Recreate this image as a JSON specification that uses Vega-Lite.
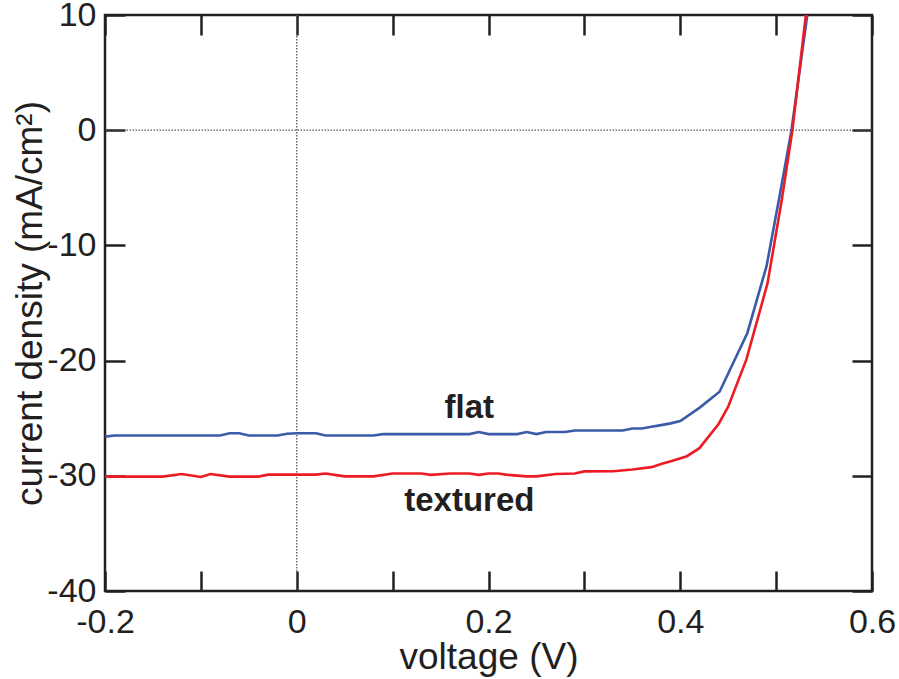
{
  "$schema": "https://vega.github.io/schema/vega-lite/v6.json",
  "width": 767,
  "height": 576,
  "autosize": {"type": "none"},
  "padding": {"left": 105, "top": 15, "right": 27, "bottom": 88},
  "config": {
    "font": "Liberation Sans",
    "view": {"stroke": "#231f20", "strokeWidth": 2.5},
    "axis": {"domain": false, "grid": false, "labelFlush": false, "tickColor": "#231f20", "tickWidth": 2.5, "labelColor": "#231f20", "titleColor": "#231f20", "labelFontSize": 34, "titleFontSize": 37, "titleFontWeight": "normal"}
  },
  "resolve": {"axis": {"x": "independent", "y": "independent"}},
  "datasets": {
    "curves": [
      {"V": -0.2, "J": -26.6, "sample": "flat"},
      {"V": -0.19, "J": -26.5, "sample": "flat"},
      {"V": -0.15, "J": -26.5, "sample": "flat"},
      {"V": -0.1, "J": -26.5, "sample": "flat"},
      {"V": -0.08, "J": -26.5, "sample": "flat"},
      {"V": -0.07, "J": -26.3, "sample": "flat"},
      {"V": -0.06, "J": -26.3, "sample": "flat"},
      {"V": -0.05, "J": -26.5, "sample": "flat"},
      {"V": -0.02, "J": -26.5, "sample": "flat"},
      {"V": -0.01, "J": -26.35, "sample": "flat"},
      {"V": 0.0, "J": -26.3, "sample": "flat"},
      {"V": 0.02, "J": -26.3, "sample": "flat"},
      {"V": 0.03, "J": -26.5, "sample": "flat"},
      {"V": 0.08, "J": -26.5, "sample": "flat"},
      {"V": 0.09, "J": -26.38, "sample": "flat"},
      {"V": 0.15, "J": -26.38, "sample": "flat"},
      {"V": 0.18, "J": -26.38, "sample": "flat"},
      {"V": 0.19, "J": -26.2, "sample": "flat"},
      {"V": 0.2, "J": -26.38, "sample": "flat"},
      {"V": 0.23, "J": -26.38, "sample": "flat"},
      {"V": 0.24, "J": -26.2, "sample": "flat"},
      {"V": 0.25, "J": -26.38, "sample": "flat"},
      {"V": 0.26, "J": -26.2, "sample": "flat"},
      {"V": 0.28, "J": -26.2, "sample": "flat"},
      {"V": 0.29, "J": -26.07, "sample": "flat"},
      {"V": 0.34, "J": -26.07, "sample": "flat"},
      {"V": 0.35, "J": -25.9, "sample": "flat"},
      {"V": 0.36, "J": -25.9, "sample": "flat"},
      {"V": 0.37, "J": -25.75, "sample": "flat"},
      {"V": 0.38, "J": -25.6, "sample": "flat"},
      {"V": 0.39, "J": -25.45, "sample": "flat"},
      {"V": 0.4, "J": -25.25, "sample": "flat"},
      {"V": 0.42, "J": -24.1, "sample": "flat"},
      {"V": 0.441, "J": -22.7, "sample": "flat"},
      {"V": 0.47, "J": -17.6, "sample": "flat"},
      {"V": 0.49, "J": -11.8, "sample": "flat"},
      {"V": 0.503, "J": -6.0, "sample": "flat"},
      {"V": 0.516, "J": 0.0, "sample": "flat"},
      {"V": 0.5325, "J": 10.0, "sample": "flat"},
      {"V": -0.2, "J": -30.07, "sample": "textured"},
      {"V": -0.14, "J": -30.07, "sample": "textured"},
      {"V": -0.12, "J": -29.85, "sample": "textured"},
      {"V": -0.1, "J": -30.1, "sample": "textured"},
      {"V": -0.09, "J": -29.85, "sample": "textured"},
      {"V": -0.07, "J": -30.07, "sample": "textured"},
      {"V": -0.04, "J": -30.07, "sample": "textured"},
      {"V": -0.03, "J": -29.9, "sample": "textured"},
      {"V": 0.02, "J": -29.9, "sample": "textured"},
      {"V": 0.03, "J": -29.8, "sample": "textured"},
      {"V": 0.05, "J": -30.05, "sample": "textured"},
      {"V": 0.08, "J": -30.05, "sample": "textured"},
      {"V": 0.1, "J": -29.8, "sample": "textured"},
      {"V": 0.13, "J": -29.8, "sample": "textured"},
      {"V": 0.14, "J": -29.92, "sample": "textured"},
      {"V": 0.16, "J": -29.8, "sample": "textured"},
      {"V": 0.18, "J": -29.8, "sample": "textured"},
      {"V": 0.19, "J": -29.92, "sample": "textured"},
      {"V": 0.2, "J": -29.8, "sample": "textured"},
      {"V": 0.21, "J": -29.8, "sample": "textured"},
      {"V": 0.22, "J": -29.92, "sample": "textured"},
      {"V": 0.24, "J": -30.05, "sample": "textured"},
      {"V": 0.25, "J": -30.05, "sample": "textured"},
      {"V": 0.27, "J": -29.85, "sample": "textured"},
      {"V": 0.29, "J": -29.8, "sample": "textured"},
      {"V": 0.3, "J": -29.62, "sample": "textured"},
      {"V": 0.33, "J": -29.6, "sample": "textured"},
      {"V": 0.35, "J": -29.45, "sample": "textured"},
      {"V": 0.37, "J": -29.25, "sample": "textured"},
      {"V": 0.38, "J": -28.97, "sample": "textured"},
      {"V": 0.392, "J": -28.7, "sample": "textured"},
      {"V": 0.407, "J": -28.3, "sample": "textured"},
      {"V": 0.42, "J": -27.6, "sample": "textured"},
      {"V": 0.44, "J": -25.5, "sample": "textured"},
      {"V": 0.45, "J": -24.0, "sample": "textured"},
      {"V": 0.469, "J": -19.9, "sample": "textured"},
      {"V": 0.491, "J": -13.3, "sample": "textured"},
      {"V": 0.506, "J": -6.0, "sample": "textured"},
      {"V": 0.517, "J": 0.0, "sample": "textured"},
      {"V": 0.531, "J": 10.0, "sample": "textured"}
    ],
    "labels": [
      {"V": 0.18, "J": -24.1, "text": "flat"},
      {"V": 0.18, "J": -32.2, "text": "textured"}
    ]
  },
  "layer": [
    {
      "data": {"values": [{"z": 0}]},
      "mark": {"type": "rule", "color": "#555555", "strokeWidth": 1.3, "strokeDash": [1.5, 1.5]},
      "encoding": {
        "x": {"field": "z", "type": "quantitative", "scale": {"domain": [-0.2, 0.6], "nice": false, "zero": false},
          "axis": {"orient": "top", "labels": false, "title": null, "values": [-0.2, -0.1, 0, 0.1, 0.2, 0.3, 0.4, 0.5, 0.6], "tickSize": -20}}
      }
    },
    {
      "data": {"values": [{"z": 0}]},
      "mark": {"type": "rule", "color": "#555555", "strokeWidth": 1.3, "strokeDash": [1.5, 1.5]},
      "encoding": {
        "y": {"field": "z", "type": "quantitative", "scale": {"domain": [-40, 10], "nice": false, "zero": false},
          "axis": {"orient": "right", "labels": false, "title": null, "values": [-40, -30, -20, -10, 0, 10], "tickSize": -20}}
      }
    },
    {
      "data": {"name": "curves"},
      "mark": {"type": "line", "strokeWidth": 2.6, "clip": true},
      "encoding": {
        "x": {"field": "V", "type": "quantitative", "scale": {"domain": [-0.2, 0.6], "nice": false, "zero": false},
          "axis": {"orient": "bottom", "title": "voltage (V)", "values": [-0.2, -0.1, 0, 0.1, 0.2, 0.3, 0.4, 0.5, 0.6], "tickSize": -20, "labelPadding": 34, "titlePadding": 0,
            "labelExpr": "abs(round(datum.value*10)) % 2 == 0 ? replace(format(datum.value, '.1~f'), '\u2212', '-') : ''"}},
        "y": {"field": "J", "type": "quantitative", "scale": {"domain": [-40, 10], "nice": false, "zero": false},
          "axis": {"orient": "left", "title": "current density (mA/cm\u00b2)", "values": [-40, -30, -20, -10, 0, 10], "tickSize": -20, "labelPadding": 29, "titlePadding": -3,
            "labelExpr": "replace(format(datum.value, 'd'), '\u2212', '-')"}},
        "color": {"field": "sample", "type": "nominal", "scale": {"domain": ["flat", "textured"], "range": ["#3a5ba8", "#ec1c24"]}, "legend": null},
        "order": {"field": "V", "type": "quantitative"}
      }
    },
    {
      "data": {"name": "labels"},
      "mark": {"type": "text", "fontSize": 33, "fontWeight": "bold", "color": "#231f20", "align": "center", "baseline": "middle"},
      "encoding": {
        "x": {"field": "V", "type": "quantitative", "axis": null},
        "y": {"field": "J", "type": "quantitative", "axis": null},
        "text": {"field": "text"}
      }
    }
  ]
}
